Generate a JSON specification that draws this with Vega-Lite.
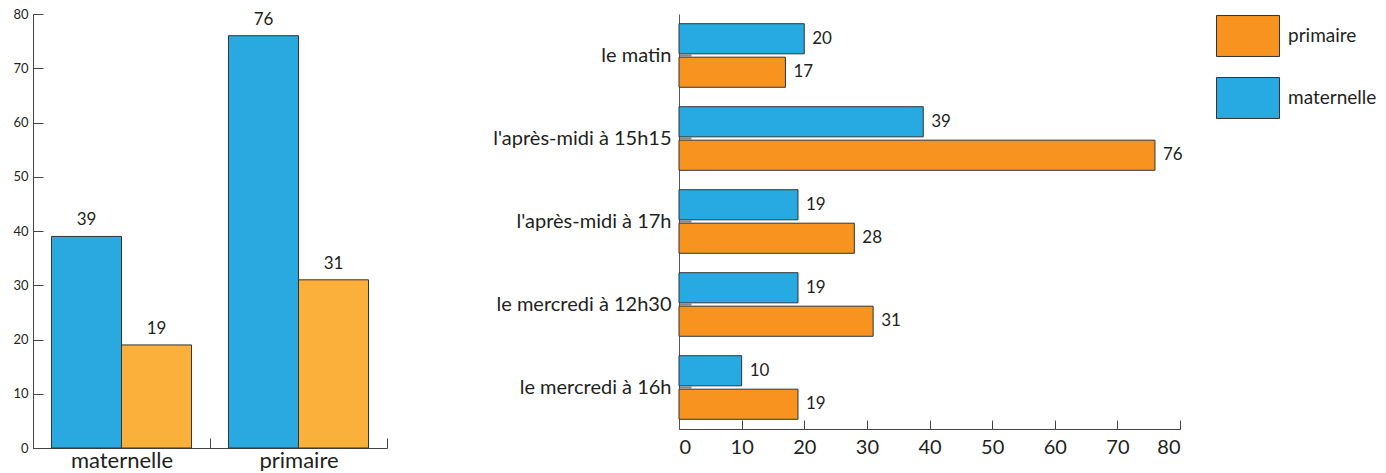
{
  "$schema": "https://vega.github.io/schema/vega-lite/v6.json",
  "padding": {"left": 12, "top": 4, "right": 5, "bottom": 0},
  "background": "white",
  "config": {"view": {"stroke": null}, "font": "Lato", "axis": {"grid": false}},
  "spacing": 292,
  "bounds": "flush",
  "resolve": {"scale": {"color": "independent"}, "legend": {"color": "independent"}},
  "hconcat": [
    {
      "width": 354,
      "height": 434,
      "data": {"values": [
        {"ecole": "maternelle", "horaire": "l'après-midi à 15h15", "valeur": 39},
        {"ecole": "maternelle", "horaire": "le mercredi à 12h30", "valeur": 19},
        {"ecole": "primaire", "horaire": "l'après-midi à 15h15", "valeur": 76},
        {"ecole": "primaire", "horaire": "le mercredi à 12h30", "valeur": 31}
      ]},
      "encoding": {
        "x": {"field": "ecole", "type": "nominal", "sort": ["maternelle", "primaire"],
          "scale": {"paddingInner": 0, "paddingOuter": 0},
          "axis": {"title": null, "labelAngle": 0, "tickBand": "extent", "tickSize": -10, "labelPadding": 29,
            "labelBaseline": "alphabetic",
            "labelFontSize": 22, "labelColor": "#231F20", "domainColor": "#444", "tickColor": "#444"}},
        "xOffset": {"field": "horaire", "type": "nominal", "sort": ["l'après-midi à 15h15", "le mercredi à 12h30"],
          "scale": {"paddingInner": 0, "paddingOuter": 0.264}},
        "y": {"field": "valeur", "type": "quantitative", "scale": {"domain": [0, 80], "nice": false},
          "axis": {"title": null, "values": [0, 10, 20, 30, 40, 50, 60, 70, 80], "tickSize": -10, "labelPadding": 15,
            "labelFontSize": 13, "labelColor": "#231F20", "domainColor": "#444", "tickColor": "#444"}}
      },
      "layer": [
        {"mark": {"type": "bar", "stroke": "#333", "strokeWidth": 1},
          "encoding": {"color": {"field": "horaire", "type": "nominal",
            "scale": {"domain": ["l'après-midi à 15h15", "le mercredi à 12h30"], "range": ["#29A9E0", "#FBB03B"]},
            "legend": null}}},
        {"mark": {"type": "text", "baseline": "bottom", "dy": -7, "fontSize": 17, "color": "#231F20"},
          "encoding": {"text": {"field": "valeur", "type": "quantitative"}}}
      ]
    },
    {
      "width": 501,
      "height": 415,
      "data": {"values": [
        {"horaire": "le matin", "niveau": "maternelle", "valeur": 20},
        {"horaire": "le matin", "niveau": "primaire", "valeur": 17},
        {"horaire": "l'après-midi à 15h15", "niveau": "maternelle", "valeur": 39},
        {"horaire": "l'après-midi à 15h15", "niveau": "primaire", "valeur": 76},
        {"horaire": "l'après-midi à 17h", "niveau": "maternelle", "valeur": 19},
        {"horaire": "l'après-midi à 17h", "niveau": "primaire", "valeur": 28},
        {"horaire": "le mercredi à 12h30", "niveau": "maternelle", "valeur": 19},
        {"horaire": "le mercredi à 12h30", "niveau": "primaire", "valeur": 31},
        {"horaire": "le mercredi à 16h", "niveau": "maternelle", "valeur": 10},
        {"horaire": "le mercredi à 16h", "niveau": "primaire", "valeur": 19}
      ]},
      "encoding": {
        "y": {"field": "horaire", "type": "nominal",
          "sort": ["le matin", "l'après-midi à 15h15", "l'après-midi à 17h", "le mercredi à 12h30", "le mercredi à 16h"],
          "scale": {"paddingInner": 0, "paddingOuter": 0},
          "axis": {"title": null, "tickSize": -12, "tickWidth": 2, "tickColor": "#888", "labelPadding": 20,
            "labelFontSize": 20, "labelColor": "#231F20", "domainColor": "#555"}},
        "yOffset": {"field": "niveau", "type": "nominal", "sort": ["maternelle", "primaire"],
          "scale": {"paddingInner": 0.1, "paddingOuter": 0.29}},
        "x": {"field": "valeur", "type": "quantitative", "scale": {"domain": [0, 80], "nice": false},
          "axis": {"title": null, "values": [0, 10, 20, 30, 40, 50, 60, 70, 80], "tickSize": -9, "labelPadding": 17,
            "labelFontSize": 20, "labelColor": "#231F20", "domainColor": "#444", "tickColor": "#444"}}
      },
      "layer": [
        {"mark": {"type": "bar", "stroke": "#333", "strokeWidth": 1},
          "encoding": {"color": {"field": "niveau", "type": "nominal",
            "scale": {"domain": ["primaire", "maternelle"], "range": ["#F7931E", "#27AAE1"]},
            "legend": {"title": null, "orient": "none", "legendX": 537, "legendY": -10,
              "symbolType": "M-1,-0.65H1V0.65H-1Z", "symbolSize": 3969,
              "symbolStrokeColor": "#333", "symbolStrokeWidth": 1,
              "labelFontSize": 19, "labelOffset": 8, "rowPadding": 7, "labelColor": "#231F20"}}}},
        {"mark": {"type": "text", "align": "left", "baseline": "middle", "dx": 8, "fontSize": 17, "color": "#231F20"},
          "encoding": {"text": {"field": "valeur", "type": "quantitative"}}}
      ]
    }
  ]
}
